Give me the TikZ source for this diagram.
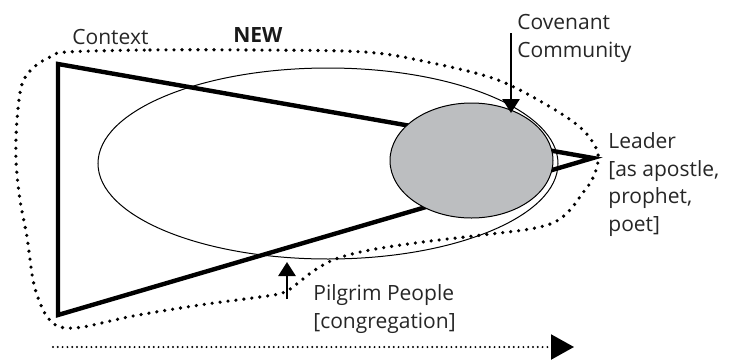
\documentclass[tikz,border=0pt]{standalone}
\usepackage{fontspec}
\setmainfont{Open Sans}
\usetikzlibrary{shapes}
\usetikzlibrary{arrows.meta}
\definecolor{commgray}{HTML}{BCBEC0}
\tikzset{
    mylabel/.style = {inner sep=0pt, align=left, anchor=north west, text=black!85, font=\fontsize{10.5}{13.9}\selectfont},
    mylabelb/.style = {inner sep=0pt, anchor=base west, text=black!90, font=\fontsize{10.5}{13.9}\selectfont\bfseries},
    myfield/.style = {ellipse, draw=black, line width=0.5pt, inner sep=0pt, minimum width=230pt, minimum height=95.5pt},
    mycomm/.style = {ellipse, draw=black, line width=0.5pt, fill=commgray, inner sep=0pt, minimum width=81.5pt, minimum height=57.5pt},
    edget/.style = {-, line width=2.2pt, black, line join=miter},
    edgep/.style = {-{Triangle[length=7pt,width=8.5pt]}, line width=1.4pt, black},
    edgedot/.style = {line width=1.8pt, dash pattern=on 0pt off 4pt, line cap=round}, % context
    edgedots/.style = {-{Triangle[length=11.5pt,width=12.5pt]}, line width=1.1pt, dash pattern=on 0pt off 2.4pt, line cap=round} % time
}

\begin{document}
\begin{tikzpicture}[x=0.5pt,y=-0.5pt]
\useasboundingbox (0,0) rectangle (730,360);
\coordinate (tl) at (58,64);
\coordinate (bl) at (58,315);
\coordinate (apex) at (593,158);
\draw[edget] (tl) -- (apex) -- (bl) -- cycle;

\node[myfield] at (328,163.5) (field) {};
\node[mycomm] at (471.5,160.5) (comm) {};

% the new context round it all
\draw[edgedot] plot[smooth cycle, tension=0.55] coordinates {
  (67,52) (150,50) (250,50) (365,52) (432,63) (498,80) (552,108) (582,129)
  (596,148) (598,162) (592,180) (582,194) (570,210) (555,222) (530,229)
  (482,235) (415,243) (365,251) (333,260) (312,272) (298,283) (285,292)
  (267,296) (200,305) (133,316) (83,327) (60,327) (48,318) (40,303)
  (33,280) (27,237) (20,200) (16,160) (17,120) (22,84) (34,67) (50,57)};

\node[mylabel] at (72,29) (context) {Context};
\node[mylabelb] at (233,42) (new) {NEW};
\node[mylabel] at (517,14) (covenant) {Covenant\\Community};
\node[mylabel] at (608,132) (leader) {Leader\\{[as apostle,}\\prophet,\\poet]};
\node[mylabel] at (313,284) (pilgrim) {Pilgrim People\\{[congregation]}};

\coordinate (ctop) at (511,33);
\coordinate (ctip) at (511,113);
\draw[edgep] (ctop) -- (ctip);
\coordinate (pbot) at (287,299);
\coordinate (ptip) at (287,262);
\draw[edgep] (pbot) -- (ptip);

\coordinate (tstart) at (53,347);
\coordinate (tend) at (574,347);
\draw[edgedots] (tstart) -- (tend);

\end{tikzpicture}
\end{document}
